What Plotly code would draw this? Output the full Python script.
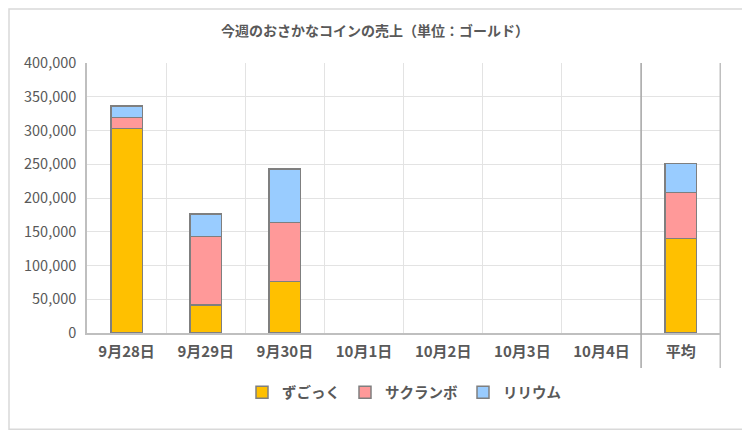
import plotly.graph_objects as go

# categories and stacked values (gold)
days = ["9月28日", "9月29日", "9月30日", "10月1日", "10月2日", "10月3日", "10月4日", "平均"]
zugokku = [303000, 41500, 76500, None, None, None, None, 140000]
sakuranbo = [16000, 101500, 87000, None, None, None, None, 68000]
ririumu = [17000, 33000, 79500, None, None, None, None, 43000]

series = [
    ("ずごっく", zugokku, "#FFC000"),
    ("サクランボ", sakuranbo, "#FF9999"),
    ("リリウム", ririumu, "#99CCFF"),
]

FONT = "Noto Sans CJK JP"
GREY = "#595959"

fig = go.Figure()
for name, vals, color in series:
    fig.add_trace(go.Bar(
        x=days, y=vals, name=name,
        marker=dict(color=color, line=dict(color="#7F7F7F", width=1.5)),
    ))

# page body has an 8px margin, so the figure is a bit smaller than the window
W, H = 742, 424
L, T, PW, PH = 79, 55, 634, 270.5

fig.update_layout(
    width=W, height=H,
    barmode="stack", bargap=0.6,
    plot_bgcolor="white", paper_bgcolor="white",
    font=dict(family=FONT, color=GREY),
    title=dict(text="今週のおさかなコインの売上（単位：ゴールド）",
               x=(375 - 8) / W, xanchor="center", y=1 - (31 - 8) / H, yanchor="middle",
               font=dict(size=14, color=GREY, weight="bold")),
    margin=dict(l=L, r=W - L - PW, t=T, b=H - T - PH),
    showlegend=True,
    legend=dict(orientation="h", x=0.5, xanchor="center", y=-0.22, yanchor="middle",
                font=dict(size=14.5, color=GREY, weight="bold"), itemwidth=30,
                traceorder="normal"),
    xaxis=dict(
        tickson="boundaries", showgrid=True, gridcolor="#E3E3E3", gridwidth=1,
        showline=True, linecolor="#BFBFBF", linewidth=1.5,
        tickfont=dict(size=15, color=GREY, family=FONT, weight="bold"), ticks="",
        ticklabelstandoff=4,
    ),
    yaxis=dict(
        range=[0, 400000], dtick=50000, tickformat=",d",
        showgrid=True, gridcolor="#E3E3E3", gridwidth=1,
        showline=True, linecolor="#BFBFBF", linewidth=1.5,
        tickfont=dict(size=14.5, color=GREY, family=FONT), ticks="",
        ticklabelstandoff=6, zeroline=False,
    ),
    shapes=[
        # separators around the average column
        dict(type="line", xref="x", yref="paper", x0=6.5, x1=6.5, y0=-0.13, y1=1,
             line=dict(color="#A6A6A6", width=1.5)),
        dict(type="line", xref="x", yref="paper", x0=7.5, x1=7.5, y0=-0.13, y1=1,
             line=dict(color="#BFBFBF", width=1.5)),
        # chart frame
        dict(type="rect", xref="paper", yref="paper",
             x0=-(L - 1) / PW, x1=1 + (W - L - PW - 2) / PW,
             y0=-(H - T - PH - 2) / PH, y1=1 + (T - 1) / PH,
             line=dict(color="#D9D9D9", width=1.5), layer="below"),
    ],
)

fig.write_html("out.html")
